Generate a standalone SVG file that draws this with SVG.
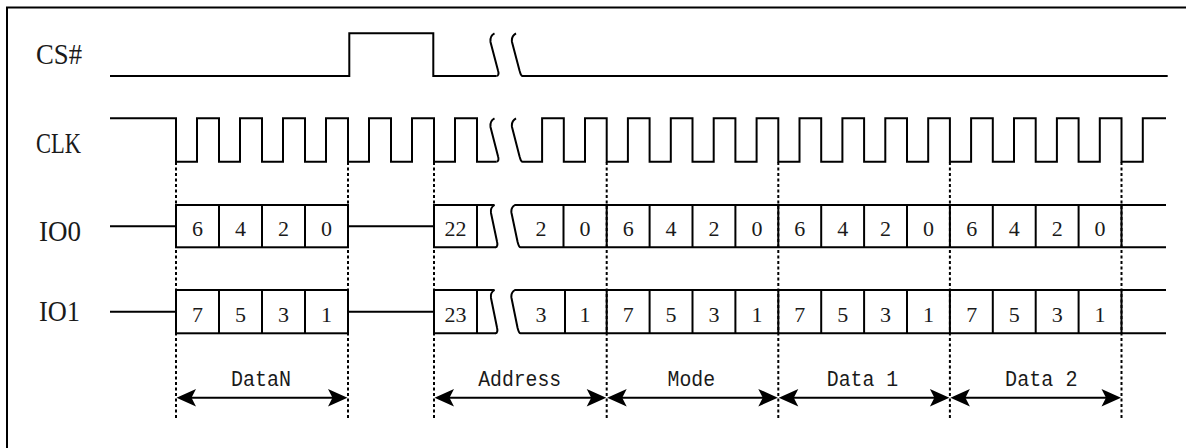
<svg xmlns="http://www.w3.org/2000/svg" width="1186" height="448" viewBox="0 0 1186 448">
<style>
.sig{fill:none;stroke:#000;stroke-width:2;stroke-linejoin:miter}
.dot{fill:none;stroke:#000;stroke-width:2;stroke-dasharray:3 2.5}
.arr{fill:none;stroke:#000;stroke-width:2}
.head{fill:#000;stroke:none}
.lbl{font-family:"Liberation Serif","Times New Roman",serif;font-size:30px;fill:#1a1a1a}
.bit{font-family:"Liberation Serif","Times New Roman",serif;font-size:22px;fill:#1a1a1a;text-anchor:middle}
.seg{font-family:"Liberation Mono","Courier New",monospace;font-size:22px;fill:#1a1a1a;text-anchor:middle}
</style>
<defs>
<path id="hd" d="M0,0 L19.5,-8.8 L15,0 L19.5,8.8 Z"/>
</defs>
<rect width="1186" height="448" fill="#fff"/>
<path id="frame" class="sig" d="M7,448 V7.5 H1186"/>

<g id="cs">
<text class="lbl" x="36" y="64" textLength="46" lengthAdjust="spacingAndGlyphs">CS#</text>
<path class="sig" d="M110,76 H349.3 V33.3 H433.3 V76 H496.5"/>
<path class="sig" d="M494.5,33.3 C490.5,35.5 490,38.5 490.5,42 L498,70.5 C499,73.5 498.5,76 496.5,76"/>
<path class="sig" d="M516,33.3 C512,35.5 511.5,38.5 512,42 L519.5,70.5 C520.5,73.5 520.5,76 522.5,76 H1167.7"/>
</g>

<g id="clk">
<text class="lbl" x="36" y="153" textLength="45" lengthAdjust="spacingAndGlyphs">CLK</text>
<path class="sig" d="M110,118.3 H176 V161.7 H197 V118.3 H219 V161.7 H240 V118.3 H262 V161.7 H283 V118.3 H305 V161.7 H326 V118.3 H348 V161.7 H369 V118.3 H391 V161.7 H412 V118.3 H434 V161.7 H455 V118.3 H477 V161.7 H496.5"/>
<path class="sig" d="M494.5,118.3 C490.5,120.5 490,123.5 490.5,127 L498,156.2 C499,159.2 498.5,161.7 496.5,161.7"/>
<path class="sig" d="M516,118.3 C512,120.5 511.5,123.5 512,127 L519.5,156.2 C520.5,159.2 520.5,161.7 522.5,161.7 H542.1 V118.3 H563.8 V161.7 H585 V118.3 H606.7 V161.7 H627.9 V118.3 H649.6 V161.7 H670.8 V118.3 H692.5 V161.7 H713.7 V118.3 H735.4 V161.7 H756.6 V118.3 H778.3 V161.7 H799.5 V118.3 H821.2 V161.7 H842.4 V118.3 H864.1 V161.7 H885.3 V118.3 H907 V161.7 H928.2 V118.3 H949.9 V161.7 H971.1 V118.3 H992.8 V161.7 H1014 V118.3 H1035.7 V161.7 H1056.9 V118.3 H1078.6 V161.7 H1099.8 V118.3 H1121.5 V161.7 H1142.8 V118.3 H1166"/>
</g>

<g id="io0">
<text class="lbl" x="39" y="240.5" textLength="42" lengthAdjust="spacingAndGlyphs">IO0</text>
<path class="sig" d="M110,226.2 H176 M348,226.2 H434"/>
<rect class="sig" x="176" y="205" width="172" height="42.3"/>
<path class="sig" d="M219,205 V247.3 M262,205 V247.3 M305,205 V247.3"/>
<path class="sig" d="M494.5,205 H434 V247.3 H496 M477,205 V247.3"/>
<path class="sig" d="M494.5,205 C491,207 490.5,210 491,213 L497,241.5 C497.8,244.5 497.3,247.3 495.5,247.3"/>
<path class="sig" d="M1166,205 H515 C511.5,207 511,210 511.5,213 L517.5,241.5 C518.3,244.5 518.8,247.3 520.5,247.3 H1166"/>
<path class="sig" d="M563.5,205 V247.3 M606.7,205 V247.3 M649.6,205 V247.3 M692.5,205 V247.3 M735.4,205 V247.3 M778.3,205 V247.3 M821.2,205 V247.3 M864.1,205 V247.3 M907,205 V247.3 M949.9,205 V247.3 M992.8,205 V247.3 M1035.7,205 V247.3 M1078.6,205 V247.3 M1121.5,205 V247.3"/>
<text class="bit" y="236"><tspan x="197.5">6</tspan><tspan x="240.5">4</tspan><tspan x="283.5">2</tspan><tspan x="326.5">0</tspan><tspan x="455.5">22</tspan><tspan x="541">2</tspan><tspan x="585">0</tspan><tspan x="628.2">6</tspan><tspan x="671">4</tspan><tspan x="714">2</tspan><tspan x="756.9">0</tspan><tspan x="799.8">6</tspan><tspan x="842.7">4</tspan><tspan x="885.6">2</tspan><tspan x="928.5">0</tspan><tspan x="971.8">6</tspan><tspan x="1014.3">4</tspan><tspan x="1057.2">2</tspan><tspan x="1100">0</tspan></text>
</g>

<g id="io1">
<text class="lbl" x="39" y="321" textLength="41" lengthAdjust="spacingAndGlyphs">IO1</text>
<path class="sig" d="M110,311.7 H176 M348,311.7 H434"/>
<rect class="sig" x="176" y="290" width="172" height="43.3"/>
<path class="sig" d="M219,290 V333.3 M262,290 V333.3 M305,290 V333.3"/>
<path class="sig" d="M494.5,290 H434 V333.3 H496 M477,290 V333.3"/>
<path class="sig" d="M494.5,290 C491,292 490.5,295 491,298 L497,327.5 C497.8,330.5 497.3,333.3 495.5,333.3"/>
<path class="sig" d="M1166,290 H515 C511.5,292 511,295 511.5,298 L517.5,327.5 C518.3,330.5 518.8,333.3 520.5,333.3 H1166"/>
<path class="sig" d="M565,290 V333.3 M606.7,290 V333.3 M649.6,290 V333.3 M692.5,290 V333.3 M735.4,290 V333.3 M778.3,290 V333.3 M821.2,290 V333.3 M864.1,290 V333.3 M907,290 V333.3 M949.9,290 V333.3 M992.8,290 V333.3 M1035.7,290 V333.3 M1078.6,290 V333.3 M1121.5,290 V333.3"/>
<text class="bit" y="321.5"><tspan x="197.5">7</tspan><tspan x="240.5">5</tspan><tspan x="283.5">3</tspan><tspan x="326.5">1</tspan><tspan x="455.5">23</tspan><tspan x="541">3</tspan><tspan x="585">1</tspan><tspan x="628.2">7</tspan><tspan x="671">5</tspan><tspan x="714">3</tspan><tspan x="756.9">1</tspan><tspan x="799.8">7</tspan><tspan x="842.7">5</tspan><tspan x="885.6">3</tspan><tspan x="928.5">1</tspan><tspan x="971.8">7</tspan><tspan x="1014.3">5</tspan><tspan x="1057.2">3</tspan><tspan x="1100">1</tspan></text>
</g>

<g id="guides">
<path class="dot" d="M176,162 V419.5 M348,162 V419.5 M434,162 V419.5 M606.7,162 V419.5 M778.3,162 V419.5 M949.9,162 V419.5 M1121.5,162 V419.5"/>
</g>

<g id="connectors">
<path class="arr" d="M186,397.7 H338 M444,397.7 H596.7 M616.7,397.7 H768.3 M788.3,397.7 H939.9 M959.9,397.7 H1111.5"/>
<g class="head">
<use href="#hd" transform="translate(176.5,397.7)"/>
<use href="#hd" transform="translate(347.5,397.7) scale(-1,1)"/>
<use href="#hd" transform="translate(434.5,397.7)"/>
<use href="#hd" transform="translate(606.2,397.7) scale(-1,1)"/>
<use href="#hd" transform="translate(607.2,397.7)"/>
<use href="#hd" transform="translate(777.8,397.7) scale(-1,1)"/>
<use href="#hd" transform="translate(778.8,397.7)"/>
<use href="#hd" transform="translate(949.4,397.7) scale(-1,1)"/>
<use href="#hd" transform="translate(950.4,397.7)"/>
<use href="#hd" transform="translate(1121,397.7) scale(-1,1)"/>
</g>
</g>

<g id="segment-labels">
<text class="seg" x="261" y="386" textLength="60" lengthAdjust="spacingAndGlyphs">DataN</text>
<text class="seg" x="519.7" y="386" textLength="83" lengthAdjust="spacingAndGlyphs">Address</text>
<text class="seg" x="691.3" y="386" textLength="47.5" lengthAdjust="spacingAndGlyphs">Mode</text>
<text class="seg" x="862.5" y="386" textLength="71.5" lengthAdjust="spacingAndGlyphs">Data 1</text>
<text class="seg" x="1041.3" y="386" textLength="72.5" lengthAdjust="spacingAndGlyphs">Data 2</text>
</g>
</svg>
